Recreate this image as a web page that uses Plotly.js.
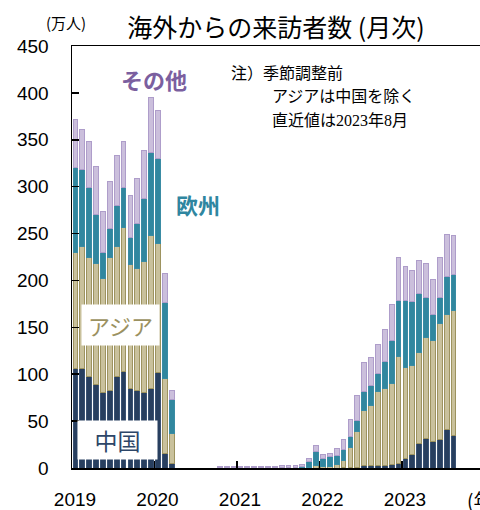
<!DOCTYPE html>
<html>
<head>
<meta charset="utf-8">
<script src="https://cdn.plot.ly/plotly-3.0.1.min.js"></script>
<style>html,body{margin:0;padding:0;background:#fff;}#chart{width:480px;height:510px;}</style>
</head>
<body>
<div id="chart"></div>
<script>
// Months Jan 2019 .. Aug 2023
const months = [];
for (let y = 2019; y <= 2023; y++) {
  for (let m = 1; m <= 12; m++) {
    if (y === 2023 && m > 8) break;
    months.push(y + '-' + String(m).padStart(2, '0'));
  }
}
const yearLabels = ['2019', '2020', '2021', '2022', '2023'];

// values in 万人
const china = [106,106,98,89,80,83,98,103,85,83,80,85,
  102,16,5,0,0,0,0,0,0,0.3,0.3,0.3,
  0.3,0.3,0.3,0.3,0.3,0.3,0.1,0.1,0.1,0.1,0,0,
  0,0,0,0.3,1,1,2.4,2.4,2.8,2.4,4.2,5.3,
  10.2,14.9,26.6,31.9,28.3,30.8,40.7,35.1];
const asia = [124,130,127,129,122,142,138,153,132,130,140,163,
  137,79,32,0,0,0,0,0,0,0.4,0.4,0.4,
  0.4,0.4,0.4,0.4,0.4,0.4,0.3,0.3,0.3,0.4,1,2.4,
  1.5,2,3.9,7.5,21.3,37.6,58.9,64.6,78.7,82,86.2,113.4,
  97.2,94.1,96.8,107.1,107.4,123.8,123.3,133.3];
const europe = [90,82,74,52,28,30,44,43,29,48,67,88,
  91,81,36,0,0,0,0,0,0,0.3,0.3,0.3,
  0.3,0.3,0.3,0.3,0.3,0.3,0.6,0.6,0.6,0.8,5.7,14.9,
  9.1,10.4,9.1,12.4,11,12.1,20.2,20.6,19.5,29.6,45.3,60.3,
  71.6,69,62.8,43,28.3,27.4,39.8,38];
const other = [52,43,49,51,43,51,53,49,45,48,52,59,
  51,31,10,0,0,0,0,0,0,0.8,0.8,0.8,
  0.8,0.8,0.8,0.8,0.8,0.8,1.8,1.8,1.8,2.2,3.9,6.4,
  3.6,3.2,8.3,10.6,18.7,26.6,31.3,30.4,31,34,38.8,45.5,
  35.5,33,35.4,35.7,37.4,42.5,45.2,41.5];

const xs = months.map((m, i) => i + 0.5);
const yearTicks = yearLabels.map(y => months.indexOf(y + '-01'));

function bar(name, vals, fill, line) {
  return {type: 'bar', name: name, x: xs, y: vals,
    marker: {color: fill, line: {color: line, width: 1}},
    hoverinfo: 'skip'};
}

const data = [
  bar('中国', china, '#283f5f', '#3a5273'),
  bar('アジア', asia, '#c9c19c', '#9d935f'),
  bar('欧州', europe, '#31879f', '#3a8ca4'),
  bar('その他', other, '#cbbfdc', '#ae9dca')
];

const jp = '"Noto Sans CJK JP", "Liberation Sans", sans-serif';
const num = '"Liberation Sans", Arial, sans-serif';
const note = '"Liberation Serif", "Noto Sans CJK JP", serif';

const layout = {
  width: 480, height: 510,
  margin: {l: 72, r: 0, t: 46, b: 42},
  paper_bgcolor: '#fff', plot_bgcolor: '#fff',
  showlegend: false,
  barmode: 'stack', bargap: 0.3,
  title: {text: '海外からの来訪者数 (月次)', font: {family: jp, size: 25, color: '#000'},
    x: 0.5, xref: 'paper', xanchor: 'center', y: 1 - 28/510, yref: 'container', yanchor: 'middle'},
  xaxis: {range: [0, 59.35], tickmode: 'array', tickvals: yearTicks, ticktext: yearLabels,
    ticks: 'inside', ticklen: 7, tickwidth: 1.5, tickcolor: '#000',
    showline: true, linecolor: '#000', linewidth: 1.5, mirror: true,
    showgrid: false, zeroline: false, ticklabelstandoff: 14, ticklabelshift: 3,
    tickfont: {family: num, size: 19, color: '#000'}, fixedrange: true},
  yaxis: {range: [0, 450], tickmode: 'linear', tick0: 0, dtick: 50,
    ticks: 'inside', ticklen: 7, tickwidth: 1.5, tickcolor: '#000',
    showline: true, linecolor: '#000', linewidth: 1.5,
    showgrid: false, zeroline: false, ticklabelstandoff: 18,
    tickfont: {family: num, size: 19, color: '#000'}, fixedrange: true},
  annotations: [
    {text: '(万人)', xref: 'paper', yref: 'paper', x: (66-72)/408, y: (468-23)/422,
      xanchor: 'center', yanchor: 'middle', showarrow: false,
      font: {family: jp, size: 15, color: '#000'}},
    {text: '(年)', xref: 'paper', yref: 'paper', x: (465-72)/408, y: (468-499)/422,
      xanchor: 'left', yanchor: 'middle', showarrow: false,
      font: {family: jp, size: 19, color: '#000'}},
    {text: 'その他', xref: 'x', yref: 'y', x: (154-72)/6.875, y: (468-79)/0.938,
      xanchor: 'center', yanchor: 'middle', showarrow: false,
      font: {family: jp, size: 22, color: '#7b5f9f', weight: 700}},
    {text: '欧州', xref: 'x', yref: 'y', x: (198-72)/6.875, y: (468-204)/0.938,
      xanchor: 'center', yanchor: 'middle', showarrow: false, bgcolor: '#fff',
      font: {family: jp, size: 22, color: '#2f86a0', weight: 700}},
    {text: 'アジア', xref: 'x', yref: 'y', x: (120-72)/6.875, y: (468-325)/0.938,
      xanchor: 'center', yanchor: 'middle', showarrow: false, bgcolor: '#fff',
      width: 75, height: 38, font: {family: jp, size: 22, color: '#9b9160'}},
    {text: '中国', xref: 'x', yref: 'y', x: (117-72)/6.875, y: (468-440)/0.938,
      xanchor: 'center', yanchor: 'middle', showarrow: false, bgcolor: '#fff',
      width: 77, height: 36, font: {family: jp, size: 23, color: '#2d4668'}},
    {text: '注）季節調整前', xref: 'paper', yref: 'paper', x: (229-72)/408, y: (468-73)/422,
      xanchor: 'left', yanchor: 'middle', showarrow: false,
      font: {family: note, size: 16, color: '#000'}},
    {text: 'アジアは中国を除く', xref: 'paper', yref: 'paper', x: (270-72)/408, y: (468-97)/422,
      xanchor: 'left', yanchor: 'middle', showarrow: false,
      font: {family: note, size: 16, color: '#000'}},
    {text: '直近値は2023年8月', xref: 'paper', yref: 'paper', x: (270-72)/408, y: (468-120)/422,
      xanchor: 'left', yanchor: 'middle', showarrow: false,
      font: {family: note, size: 16, color: '#000'}}
  ]
};

Plotly.newPlot('chart', data, layout, {displayModeBar: false, staticPlot: true});
</script>
</body>
</html>
